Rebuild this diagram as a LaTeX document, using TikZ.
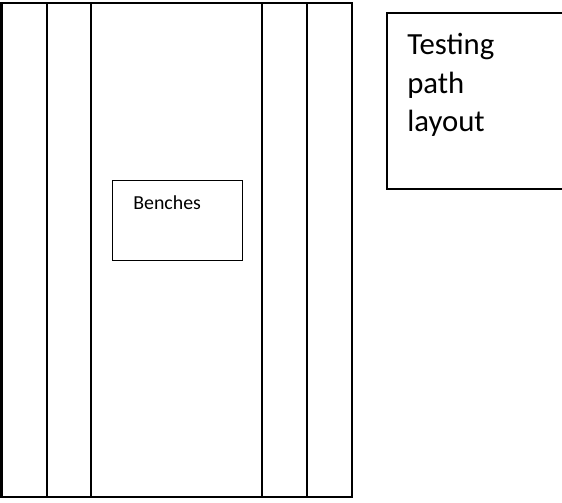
\documentclass[tikz,border=0pt]{standalone}
\usepackage{fontspec}
\setmainfont{Carlito}
\begin{document}
\begin{tikzpicture}
[x=0.02cm,y=-0.02cm,
  walldecorate/.style={draw,line width=1.7pt},
  pathdecorate/.style={draw,line width=1.2pt},
  boxdecorate/.style={draw,line width=0.6pt},
  benchdecorate/.style={shape=rectangle,draw,line width=0.6pt,
    minimum width=2.6cm,minimum height=1.6cm,inner sep=0pt},
  bigtext/.style={anchor=base west,inner sep=0pt,
    font=\fontsize{17.5}{21}\selectfont},
  smalltext/.style={anchor=base west,inner sep=0pt,
    font=\fontsize{11.3}{13}\selectfont}]
\useasboundingbox (0,0) rectangle (562,503);
%% outer walls and path strips
\draw[walldecorate] (1.5,3) rectangle (352,497);
\foreach \x in {47,307}
{
  \draw[walldecorate] (\x,2.5) -- (\x,497.5);
}
\foreach \x in {91,262}
{
  \draw[pathdecorate] (\x,3) -- (\x,497);
}
%% benches
\node (benches) at (177.5,220.5) [benchdecorate] {};
\node (benchlabel) at (133,210) [smalltext] {Benches};
%% note box
\coordinate (notetop) at (562,13);
\coordinate (notebottom) at (562,189);
\draw[boxdecorate] (notetop) -| (387,189) -- (notebottom);
\foreach \name/\word/\y in {t1/Testing/55, t2/path/93.5, t3/layout/132}
{
  \node (\name) at (407,\y) [bigtext] {\word};
}
\end{tikzpicture}
\end{document}
